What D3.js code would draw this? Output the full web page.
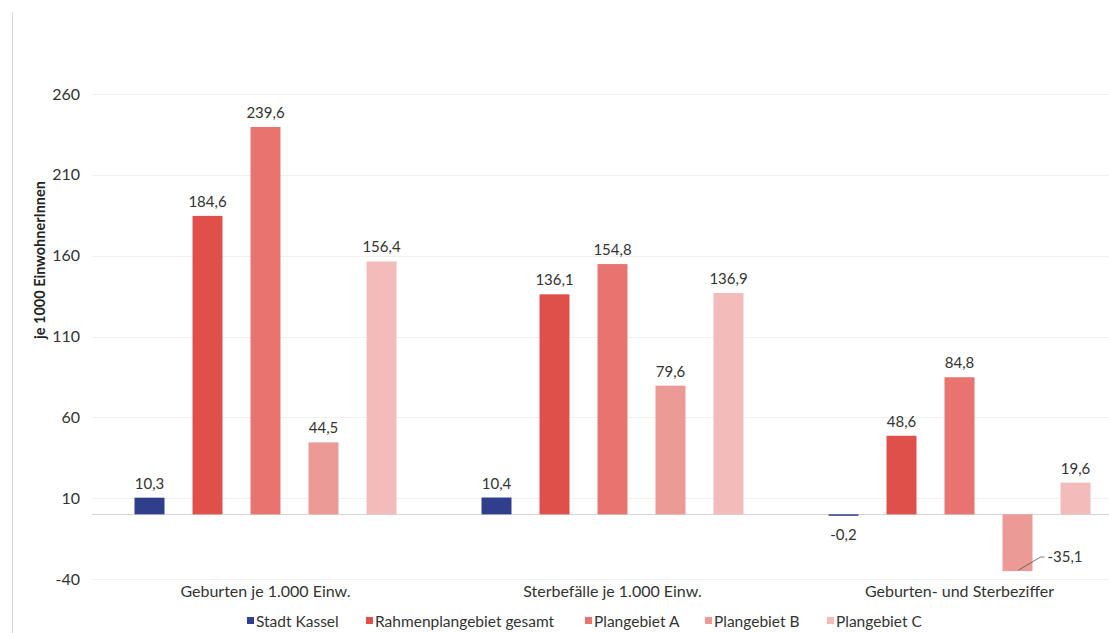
<!DOCTYPE html>
<html>
<head>
<meta charset="utf-8">
<script src="https://cdn.jsdelivr.net/npm/d3@7"></script>
<style>
  html, body { margin: 0; padding: 0; background: #fff; }
  svg { display: block; font-family: Lato, "Open Sans", sans-serif; }
</style>
</head>
<body>
<svg id="chart" width="1109" height="633"></svg>
<script>
// Kategorien (x-Achse)
const categories = ["Geburten je 1.000 Einw.", "Sterbefälle je 1.000 Einw.", "Geburten- und Sterbeziffer"];
// Reihen (Legende)
const series = ["Stadt Kassel", "Rahmenplangebiet gesamt", "Plangebiet A", "Plangebiet B", "Plangebiet C"];
// Werte je Reihe, in Reihenfolge der Kategorien
const stadtKassel = [10.3, 10.4, -0.2];
const rahmenplangebiet = [184.6, 136.1, 48.6];
const plangebietA = [239.6, 154.8, 84.8];
const plangebietB = [44.5, 79.6, -35.1];
const plangebietC = [156.4, 136.9, 19.6];
// Achsenteilung
const yTicks = [-40, 10, 60, 110, 160, 210, 260];
const colors = ["#2f3f8c", "#e0504b", "#e87470", "#ec9a96", "#f3bcba"];

const values = [stadtKassel, rahmenplangebiet, plangebietA, plangebietB, plangebietC];
const rows = [];
series.forEach((s, si) => categories.forEach((c, ci) => rows.push({ series: s, cat: c, value: values[si][ci], si })));

const svg = d3.select("#chart");
const fmt = v => String(v).replace(".", ",");

const x = d3.scaleBand().domain(categories).range([92, 1133]).padding(0);
const xs = d3.scaleBand().domain(series).range([0, x.bandwidth()]).paddingInner(0.483).paddingOuter(0.733);
const y = d3.scaleLinear().domain([-40, 260]).range([579, 94]);

// linke Randlinie
svg.append("line").attr("x1", 12.5).attr("x2", 12.5).attr("y1", 12).attr("y2", 633)
  .attr("stroke", "#d6d6d6").attr("stroke-width", 1);

// Gitterlinien
svg.append("g").selectAll("line").data(yTicks).join("line")
  .attr("x1", 92).attr("x2", 1109)
  .attr("y1", d => Math.round(y(d)) + 0.5).attr("y2", d => Math.round(y(d)) + 0.5)
  .attr("stroke", "#f0f0f0");

// Nulllinie
svg.append("line").attr("x1", 92).attr("x2", 1109)
  .attr("y1", Math.round(y(0)) + 0.5).attr("y2", Math.round(y(0)) + 0.5)
  .attr("stroke", "#d4d4d4");

// y-Achse
const yAxis = svg.append("g").attr("transform", "translate(80,0)")
  .call(d3.axisLeft(y).tickValues(yTicks).tickSize(0).tickPadding(0).tickFormat(d => d));
yAxis.select(".domain").remove();
yAxis.selectAll("text").attr("font-size", 16).attr("fill", "#333").attr("font-family", "Lato");

// Achsentitel
svg.append("text").attr("transform", "translate(45,260) rotate(-90)")
  .attr("text-anchor", "middle").attr("font-size", 14.5).attr("font-weight", 700).attr("fill", "#222")
  .text("je 1000 EinwohnerInnen");

// Balken
svg.append("g").selectAll("rect").data(rows).join("rect")
  .attr("x", d => x(d.cat) + xs(d.series))
  .attr("width", xs.bandwidth())
  .attr("y", d => Math.min(y(d.value), y(0)))
  .attr("height", d => Math.max(1.5, Math.abs(y(d.value) - y(0))))
  .attr("fill", d => colors[d.si]);

// Datenbeschriftungen
const labels = svg.append("g").attr("font-size", 15).attr("fill", "#333");
rows.forEach(d => {
  const cx = x(d.cat) + xs(d.series) + xs.bandwidth() / 2;
  if (d.value >= 0) {
    labels.append("text").attr("x", cx).attr("y", y(d.value) - 9)
      .attr("text-anchor", "middle").text(fmt(d.value));
  } else if (Math.abs(y(d.value) - y(0)) < 5) {
    labels.append("text").attr("x", cx).attr("y", y(0) + 26)
      .attr("text-anchor", "middle").text(fmt(d.value));
  } else {
    // Beschriftung rechts neben dem Balken mit Führungslinie
    const bx = cx + 1, by = y(d.value) - 1;
    const lx = cx + 23, ly = by - 13;
    labels.append("path").attr("d", `M${bx},${by}L${lx},${ly}L${lx + 4},${ly}`)
      .attr("fill", "none").attr("stroke", "#555").attr("stroke-width", 0.8);
    labels.append("text").attr("x", lx + 7).attr("y", ly + 5).text(fmt(d.value));
  }
});

// Kategorienbeschriftung
svg.append("g").selectAll("text").data(categories).join("text")
  .attr("x", d => x(d) + x.bandwidth() / 2).attr("y", 597)
  .attr("text-anchor", "middle").attr("font-size", 16).attr("fill", "#333")
  .text(d => d);

// Legende
const legendX = [247, 366, 585, 705, 827];
const legend = svg.append("g").selectAll("g").data(series).join("g")
  .attr("transform", (d, i) => `translate(${legendX[i]},621)`);
legend.append("rect").attr("x", 0).attr("y", -4).attr("width", 7).attr("height", 7)
  .attr("fill", (d, i) => colors[i]);
legend.append("text").attr("x", 9).attr("y", 5.5).attr("font-size", 15.5).attr("fill", "#333")
  .text(d => d);
</script>
</body>
</html>
